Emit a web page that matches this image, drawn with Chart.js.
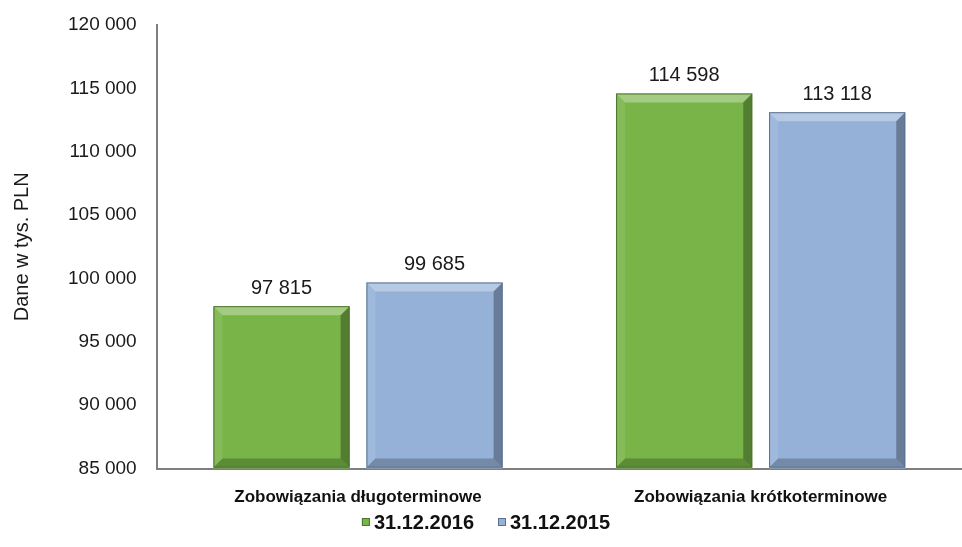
<!DOCTYPE html>
<html>
<head>
<meta charset="utf-8">
<script src="https://cdn.jsdelivr.net/npm/chart.js@4/dist/chart.umd.min.js"></script>
<style>
  html, body { margin: 0; padding: 0; background: #fff; }
  #wrap { width: 962px; height: 547px; position: relative; }
</style>
</head>
<body>
<div id="wrap"><canvas id="chart"></canvas></div>
<script>
// Data
const categories = ["Zobowiązania długoterminowe", "Zobowiązania krótkoterminowe"];
const seriesLabels = ["31.12.2016", "31.12.2015"];
const values2016 = [97815, 114598];
const values2015 = [99685, 113118];
const yTicks = [85000, 90000, 95000, 100000, 105000, 110000, 115000, 120000];

// Colours
const GREEN = "#78b447";
const GREEN_DARK = "#4a7629";
const BLUE = "#95b1d8";
const BLUE_DARK = "#5b7092";
const AXIS = "#7f7f7f";
const FONT = "'Liberation Sans', Arial, sans-serif";

function fmt(n) {
    return String(n).replace(/\B(?=(\d{3})+(?!\d))/g, " ");
}

// Bevelled look for the bars + value labels on top
const bevelPlugin = {
    id: "bevel",
    afterDatasetsDraw(chart) {
        const ctx = chart.ctx;
        const area = chart.chartArea;
        chart.data.datasets.forEach((ds, di) => {
            const meta = chart.getDatasetMeta(di);
            meta.data.forEach((bar, i) => {
                const x0 = bar.x - bar.width / 2;
                const x1 = bar.x + bar.width / 2;
                const y0 = bar.y;
                const y1 = Math.min(bar.base, area.bottom - 1);
                const b = 9;
                ctx.save();
                // top highlight
                ctx.fillStyle = "rgba(255,255,255,0.32)";
                ctx.beginPath();
                ctx.moveTo(x0, y0); ctx.lineTo(x1, y0); ctx.lineTo(x1 - b, y0 + b); ctx.lineTo(x0 + b, y0 + b);
                ctx.closePath(); ctx.fill();
                // left highlight
                ctx.fillStyle = "rgba(255,255,255,0.10)";
                ctx.beginPath();
                ctx.moveTo(x0, y0); ctx.lineTo(x0 + b, y0 + b); ctx.lineTo(x0 + b, y1 - b); ctx.lineTo(x0, y1);
                ctx.closePath(); ctx.fill();
                // right shade
                ctx.fillStyle = "rgba(0,0,0,0.30)";
                ctx.beginPath();
                ctx.moveTo(x1, y0); ctx.lineTo(x1, y1); ctx.lineTo(x1 - b, y1 - b); ctx.lineTo(x1 - b, y0 + b);
                ctx.closePath(); ctx.fill();
                // bottom shade
                ctx.fillStyle = "rgba(0,0,0,0.22)";
                ctx.beginPath();
                ctx.moveTo(x0, y1); ctx.lineTo(x1, y1); ctx.lineTo(x1 - b, y1 - b); ctx.lineTo(x0 + b, y1 - b);
                ctx.closePath(); ctx.fill();
                // outline
                ctx.strokeStyle = di === 0 ? GREEN_DARK : BLUE_DARK;
                ctx.lineWidth = 1;
                ctx.strokeRect(x0 + 0.5, y0 + 0.5, bar.width - 1, y1 - y0 - 1);
                // value label
                ctx.fillStyle = "#1a1a1a";
                ctx.font = "20px " + FONT;
                ctx.textAlign = "center";
                ctx.textBaseline = "bottom";
                ctx.fillText(fmt(ds.data[i]), bar.x, y0 - 8);
                ctx.restore();
            });
        });
    }
};

// Compact legend at the bottom (small square markers close to the text)
const legendPlugin = {
    id: "bottomLegend",
    afterDraw(chart) {
        const ctx = chart.ctx;
        const y = 522;
        const box = 8, gapBoxText = 4, gapItems = 24;
        ctx.save();
        ctx.font = "bold 20px " + FONT;
        ctx.textBaseline = "middle";
        ctx.textAlign = "left";
        const items = chart.data.datasets.map(ds => ({
            text: ds.label, color: ds.backgroundColor,
            w: box + gapBoxText + ctx.measureText(ds.label).width
        }));
        const total = items.reduce((s, it) => s + it.w, 0) + gapItems * (items.length - 1);
        let x = chart.width / 2 + 5 - total / 2;
        items.forEach((it, k) => {
            ctx.fillStyle = it.color;
            ctx.fillRect(x, y - box / 2, box, box);
            ctx.strokeStyle = k === 0 ? GREEN_DARK : BLUE_DARK;
            ctx.lineWidth = 1;
            ctx.strokeRect(x + 0.5, y - box / 2 + 0.5, box - 1, box - 1);
            ctx.fillStyle = "#111";
            ctx.fillText(it.text, x + box + gapBoxText, y + 1);
            x += it.w + gapItems;
        });
        ctx.restore();
    }
};

new Chart(document.getElementById("chart"), {
    type: "bar",
    data: {
        labels: categories,
        datasets: [
            { label: seriesLabels[0], data: values2016, backgroundColor: GREEN, borderWidth: 0 },
            { label: seriesLabels[1], data: values2015, backgroundColor: BLUE, borderWidth: 0 }
        ]
    },
    options: {
        responsive: true,
        maintainAspectRatio: false,
        animation: false,
        categoryPercentage: 0.76,
        barPercentage: 0.89,
        layout: { padding: { top: 25, right: 0, left: 10, bottom: 20 } },
        scales: {
            x: {
                grid: { display: false, drawTicks: false },
                border: { color: AXIS, width: 2 },
                ticks: {
                    color: "#111",
                    font: { family: FONT, size: 17, weight: "bold" },
                    padding: 19
                }
            },
            y: {
                min: 85000,
                max: 120000,
                afterBuildTicks(axis) { axis.ticks = yTicks.map(v => ({ value: v })); },
                afterFit(axis) { axis.paddingTop = 0; },
                grid: { display: false, drawTicks: false },
                border: { color: AXIS, width: 2 },
                ticks: {
                    color: "#1a1a1a",
                    font: { family: FONT, size: 19 },
                    padding: 20,
                    callback: v => fmt(v)
                },
                title: {
                    display: true,
                    text: "Dane w tys. PLN",
                    color: "#1a1a1a",
                    font: { family: FONT, size: 20 },
                    padding: { top: 0, bottom: 14 }
                }
            }
        },
        plugins: {
            legend: { display: false },
            tooltip: { enabled: false }
        }
    },
    plugins: [bevelPlugin, legendPlugin]
});
</script>
</body>
</html>
